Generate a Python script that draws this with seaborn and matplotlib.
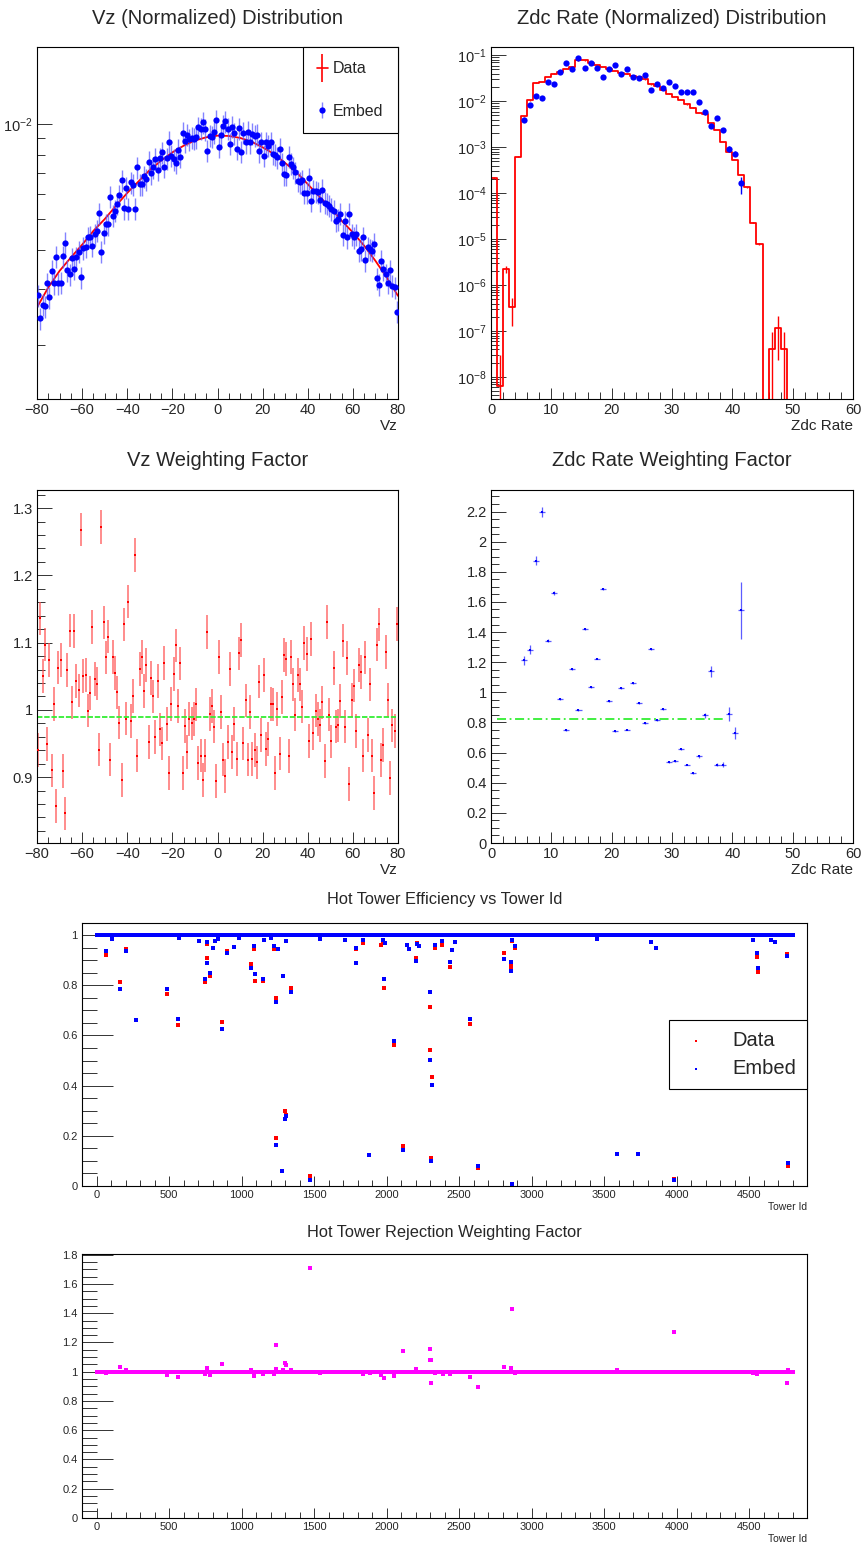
import numpy as np
import matplotlib
matplotlib.use("Agg")
import matplotlib.pyplot as plt
import seaborn as sns
from matplotlib.ticker import MultipleLocator, LogLocator, NullFormatter, FuncFormatter
from matplotlib.lines import Line2D

# ---------------- data ----------------
# Vz distribution (normalized), values in units of 1e-3
VZ_UNIT = 1e-3
vz_data_x = [-80, -75, -70, -65, -60, -55, -50, -45, -40, -35, -30, -25, -20, -15, -10, -5, 0,
             5, 10, 15, 20, 25, 30, 35, 40, 45, 50, 55, 60, 65, 70, 75, 80]
vz_data = [2.63, 3.04, 3.43, 3.78, 4.15, 4.59, 5.00, 5.51, 6.05, 6.58, 7.15, 7.65, 8.13, 8.53, 8.86,
           9.07, 9.18, 9.16, 9.03, 8.79, 8.43, 8.04, 7.52, 7.03, 6.45, 5.90, 5.44, 4.94, 4.54, 4.12,
           3.69, 3.27, 2.86]
vz_bin_centers = np.arange(-79.5, 80.0, 1.0)
vz_embed = [2.87, 2.43, 2.68, 2.65, 3.13, 2.83, 3.43, 3.13, 3.80, 3.13,
            3.14, 3.82, 4.21, 3.45, 3.35, 3.76, 3.48, 3.79, 3.94, 3.27,
            4.05, 4.09, 4.38, 4.40, 4.12, 4.48, 4.60, 5.21, 3.94, 4.52,
            4.82, 4.82, 5.88, 5.12, 5.31, 5.58, 5.94, 6.64, 5.41, 6.27,
            5.40, 6.53, 6.42, 5.40, 7.29, 6.45, 6.45, 6.83, 6.69, 7.58,
            6.98, 7.29, 7.76, 7.15, 7.78, 8.12, 7.32, 7.78, 8.79, 7.92,
            7.73, 7.52, 8.29, 7.88, 9.39, 8.82, 9.23, 8.95, 9.03, 8.97,
            9.07, 9.76, 9.64, 10.12, 9.60, 8.23, 9.18, 9.12, 9.41, 10.25,
            8.47, 9.23, 9.88, 10.20, 9.64, 8.64, 9.81, 9.34, 8.33, 9.69,
            8.17, 9.39, 8.75, 9.46, 8.75, 9.30, 9.18, 9.25, 8.19, 8.75,
            7.94, 8.75, 8.53, 8.75, 8.04, 7.98, 7.84, 8.33, 7.50, 6.94,
            6.91, 7.88, 7.47, 7.29, 7.03, 6.61, 6.53, 6.64, 6.05, 6.05,
            6.74, 5.71, 6.15, 6.12, 6.08, 5.74, 6.18, 5.64, 5.58, 5.51,
            5.38, 5.31, 4.94, 5.00, 5.19, 4.46, 4.92, 4.38, 5.19, 4.48,
            4.38, 4.48, 3.97, 4.02, 4.38, 3.71, 4.07, 4.02, 3.97, 4.17,
            3.25, 3.10, 3.69, 3.47, 3.35, 3.15, 3.44, 3.08, 3.04, 2.55]
vz_embed_relerr = 0.08

# Vz weighting factor
vz_weight = [0.940, 1.136, 1.050, 1.097, 0.949, 1.074, 0.910, 1.009, 0.857, 1.063,
             1.074, 0.909, 0.846, 1.059, 1.118, 1.011, 1.117, 1.043, 1.029, 1.268,
             1.050, 1.052, 0.999, 1.025, 1.123, 1.046, 1.039, 0.941, 1.272, 1.130,
             1.078, 1.109, 0.926, 1.079, 1.055, 1.026, 0.981, 0.896, 1.127, 0.987,
             1.161, 0.983, 1.021, 1.230, 0.932, 1.061, 1.079, 1.028, 1.067, 0.952,
             1.047, 1.020, 0.960, 1.043, 0.971, 0.950, 1.070, 0.979, 0.906, 1.009,
             1.053, 1.096, 1.006, 1.069, 0.906, 0.976, 0.937, 0.986, 0.980, 0.986,
             1.008, 0.921, 0.932, 0.896, 0.932, 1.116, 0.994, 1.006, 0.975, 0.894,
             1.079, 0.997, 0.926, 0.902, 0.952, 1.061, 0.937, 0.979, 0.927, 1.084,
             1.104, 0.950, 1.014, 0.926, 0.997, 0.927, 0.940, 0.922, 1.042, 0.963,
             1.052, 0.942, 0.957, 1.009, 1.008, 0.906, 1.001, 0.935, 1.019, 1.082,
             1.076, 0.931, 1.079, 1.038, 0.993, 1.052, 1.038, 1.005, 1.099, 1.083,
             0.954, 1.105, 0.966, 0.999, 0.986, 0.977, 1.011, 0.924, 1.131, 0.993,
             0.953, 1.062, 0.975, 0.977, 1.013, 1.103, 0.975, 1.077, 0.890, 1.015,
             1.036, 0.969, 1.067, 1.056, 0.932, 1.078, 0.963, 1.038, 0.932, 0.876,
             1.097, 1.127, 0.925, 0.948, 1.086, 1.015, 0.899, 0.977, 0.969, 1.128]
vz_weight_err = 0.025
vz_fit_value = 0.99
vz_fit_range = (-80, 79)

# Zdc rate distribution (normalized)
zdc_edges = np.arange(0, 61, 1)
zdc_data = [2.2e-4, 6.5e-9, 2.2e-6, 3.3e-7, 6.2e-4, 4.7e-3, 1.05e-2, 2.55e-2, 2.6e-2, 3.39e-2,
            4.0e-2, 4.4e-2, 5.1e-2, 5.6e-2, 7.8e-2, 7.8e-2, 6.8e-2, 6.1e-2, 5.6e-2, 5.1e-2,
            4.57e-2, 4.2e-2, 4.0e-2, 3.56e-2, 3.3e-2, 3.0e-2, 2.34e-2, 2.16e-2, 1.74e-2, 1.47e-2,
            1.25e-2, 1.06e-2, 8.6e-3, 7.3e-3, 5.6e-3, 5.2e-3, 3.3e-3, 2.36e-3, 1.3e-3, 8.0e-4,
            5.3e-4, 2.5e-4, 1.34e-4, 2.3e-5, 7.8e-6, 0.0, 4.1e-8, 1.2e-7, 4.1e-8, 0.0,
            0.0, 0.0, 0.0, 0.0, 0.0, 0.0, 0.0, 0.0, 0.0, 0.0]
zdc_data_relerr = ([0.05, 3.7, 0.18, 0.6, 0.03] + [0.01] * 39 +
                   [0.05, 0.0, 1.4, 0.8, 1.4] + [0.0] * 11)
zdc_embed_x = np.arange(5.5, 42.0, 1.0)
zdc_embed = [3.9e-3, 8.2e-3, 1.31e-2, 1.19e-2, 2.63e-2, 2.42e-2, 4.4e-2, 6.8e-2, 5.1e-2, 8.75e-2,
             5.4e-2, 6.7e-2, 5.4e-2, 3.3e-2, 5.1e-2, 6.1e-2, 3.94e-2, 5.1e-2, 3.33e-2, 3.2e-2,
             3.7e-2, 1.8e-2, 2.39e-2, 1.95e-2, 2.63e-2, 2.16e-2, 1.63e-2, 1.63e-2, 1.58e-2, 9.9e-3,
             5.8e-3, 2.9e-3, 4.4e-3, 2.43e-3, 9.1e-4, 7.3e-4, 1.64e-4]
zdc_embed_relerr = [0.03] * 34 + [0.15, 0.12, 0.4]

# Zdc weighting factor
zdc_weight = [1.214, 1.282, 1.873, 2.198, 1.344, 1.658, 0.955, 0.750, 1.156, 0.884,
              1.419, 1.035, 1.223, 1.685, 0.942, 0.741, 1.030, 0.752, 1.059, 0.926,
              0.796, 1.289, 0.818, 0.887, 0.535, 0.544, 0.621, 0.520, 0.462, 0.575,
              0.847, 1.139, 0.520, 0.520, 0.856, 0.730, 1.545]
zdc_weight_err = [0.03, 0.03, 0.03, 0.035, 0.008, 0.012, 0.005, 0.005, 0.005, 0.005,
                  0.005, 0.005, 0.005, 0.005, 0.005, 0.005, 0.005, 0.005, 0.005, 0.005,
                  0.005, 0.008, 0.005, 0.005, 0.005, 0.005, 0.005, 0.005, 0.005, 0.008,
                  0.015, 0.035, 0.008, 0.015, 0.045, 0.04, 0.19]
zdc_fit_value = 0.82
zdc_fit_range = (1, 39)

# Hot tower efficiency: towers 1..4800, efficiency 1 except listed towers
n_towers = 4800
eff_data_ids = [65, 105, 160, 200, 275, 485, 560, 570, 745, 760, 762, 780, 800, 820, 840, 865, 900,
                950, 985, 1065, 1085, 1090, 1150, 1155, 1200, 1225, 1235, 1240, 1250, 1285, 1303,
                1307, 1310, 1340, 1475, 1540, 1715, 1790, 1792, 1835, 1965, 1975, 1985, 1990, 2050,
                2115, 2140, 2155, 2200, 2210, 2225, 2300, 2302, 2304, 2315, 2335, 2385, 2436, 2454,
                2576, 2629, 2810, 2859, 2861, 2868, 2886, 3826, 3859, 3983, 4528, 4557, 4559, 4650,
                4764, 4766]
eff_data_vals = [0.922, 0.985, 0.812, 0.945, 0.663, 0.765, 0.641, 0.990, 0.811, 0.910, 0.965,
                 0.838, 0.950, 0.975, 0.985, 0.652, 0.935, 0.952, 0.990, 0.886, 0.945, 0.818,
                 0.818, 0.980, 0.990, 0.945, 0.192, 0.748, 0.945, 0.835, 0.297, 0.283, 0.975,
                 0.788, 0.040, 0.985, 0.980, 0.945, 0.887, 0.970, 0.962, 0.975, 0.790, 0.970,
                 0.561, 0.160, 0.962, 0.945, 0.910, 0.970, 0.958, 0.715, 0.543, 0.112, 0.433,
                 0.950, 0.960, 0.874, 0.940, 0.644, 0.070, 0.930, 0.876, 0.860, 0.975, 0.950,
                 0.974, 0.947, 0.029, 0.980, 0.912, 0.853, 0.980, 0.925, 0.080]
eff_embed_ids = [65, 105, 160, 200, 275, 485, 560, 570, 710, 745, 760, 762, 780, 800, 820, 840,
                 865, 900, 950, 985, 1065, 1085, 1090, 1150, 1155, 1200, 1225, 1235, 1240, 1250,
                 1280, 1285, 1303, 1307, 1310, 1340, 1475, 1540, 1715, 1790, 1792, 1835, 1880,
                 1975, 1985, 1990, 2050, 2115, 2140, 2155, 2200, 2210, 2225, 2300, 2302, 2304,
                 2315, 2335, 2385, 2436, 2454, 2470, 2576, 2629, 2810, 2859, 2861, 2863, 2868,
                 2886, 3452, 3588, 3734, 3826, 3859, 3983, 4528, 4557, 4559, 4650, 4679, 4764,
                 4766]
eff_embed_vals = [0.935, 0.985, 0.785, 0.937, 0.663, 0.785, 0.665, 0.990, 0.975, 0.823, 0.889,
                  0.973, 0.850, 0.950, 0.975, 0.985, 0.625, 0.927, 0.952, 0.990, 0.870, 0.958,
                  0.845, 0.826, 0.980, 0.990, 0.955, 0.163, 0.735, 0.945, 0.060, 0.838, 0.265,
                  0.280, 0.975, 0.775, 0.022, 0.985, 0.980, 0.948, 0.887, 0.980, 0.123, 0.980,
                  0.826, 0.970, 0.578, 0.143, 0.962, 0.945, 0.895, 0.963, 0.958, 0.772, 0.503,
                  0.100, 0.401, 0.960, 0.975, 0.891, 0.940, 0.971, 0.664, 0.080, 0.905, 0.894,
                  0.857, 0.008, 0.980, 0.958, 0.985, 0.126, 0.129, 0.974, 0.947, 0.024, 0.980,
                  0.929, 0.869, 0.980, 0.972, 0.916, 0.090]

# Hot tower rejection weighting factor: 1 except listed towers
rej_ids = [65, 160, 200, 485, 560, 745, 760, 780, 865, 1065, 1085, 1150, 1225, 1235, 1240, 1285,
           1303, 1307, 1340, 1475, 1540, 1835, 1885, 1965, 1985, 2050, 2115, 2200, 2300, 2302,
           2304, 2306, 2335, 2390, 2436, 2576, 2629, 2810, 2859, 2863, 2886, 3588, 3980, 4528,
           4557, 4764, 4766]
rej_vals = [0.990, 1.035, 1.010, 0.979, 0.963, 0.985, 1.026, 0.981, 1.051, 1.010, 0.969, 0.985,
            0.985, 1.181, 1.020, 1.015, 1.061, 1.045, 1.015, 1.707, 0.990, 0.985, 0.990, 0.981,
            0.956, 0.972, 1.140, 1.020, 1.156, 1.083, 1.083, 0.926, 0.990, 0.985, 0.985, 0.967,
            0.896, 1.031, 1.026, 1.429, 0.990, 1.010, 1.270, 0.990, 0.985, 0.926, 1.010]

# ---------------- style ----------------
sns.set_style("ticks")
plt.rcParams["font.family"] = ["Liberation Sans", "DejaVu Sans"]
plt.rcParams["mathtext.default"] = "regular"
plt.rcParams["axes.linewidth"] = 0.8

W, H = 864, 1544
fig = plt.figure(figsize=(W / 100, H / 100), dpi=100)


def px_axes(l, t, r, b):
    return fig.add_axes([l / W, 1 - b / H, (r - l) / W, (b - t) / H])


def style(ax, xmaj, xmin, ymaj, ymin, lab):
    for s in ax.spines.values():
        s.set_visible(True)
        s.set_color("black")
        s.set_linewidth(0.8)
    ax.tick_params(axis="x", which="major", direction="in", length=xmaj, width=0.7,
                   labelsize=lab, top=False, bottom=True, pad=3, color="#333333")
    ax.tick_params(axis="x", which="minor", direction="in", length=xmin, width=0.7,
                   top=False, bottom=True, color="#333333")
    ax.tick_params(axis="y", which="major", direction="in", length=ymaj, width=0.7,
                   labelsize=lab, right=False, left=True, pad=3, color="#333333")
    ax.tick_params(axis="y", which="minor", direction="in", length=ymin, width=0.7,
                   right=False, left=True, color="#333333")


gfmt = FuncFormatter(lambda v, p: f"{v:g}")


def title(ax, text, y, size):
    bb = ax.get_position()
    fig.text((bb.x0 + bb.x1) / 2, 1 - y / H, text, ha="center", va="center", fontsize=size)


# ---------- Panel A: Vz distribution ----------
axA = px_axes(37, 47, 398, 399)
vz_data_arr = np.array(vz_data) * VZ_UNIT
vz_embed_arr = np.array(vz_embed) * VZ_UNIT
sns.lineplot(x=vz_data_x, y=vz_data_arr, color="red", lw=1.3, ax=axA, sort=False, estimator=None)
eb = axA.errorbar(vz_bin_centers, vz_embed_arr, yerr=vz_embed_arr * vz_embed_relerr, fmt="o",
                  color="blue", ms=4.5, ecolor=(0.35, 0.35, 1.0, 0.75), elinewidth=1.0,
                  markeredgewidth=0, zorder=3)
axA.set_yscale("log")
axA.set_xlim(-80, 80)
axA.set_ylim(1.35e-3, 1.75e-2)
axA.xaxis.set_major_locator(MultipleLocator(20))
axA.xaxis.set_minor_locator(MultipleLocator(5))
axA.yaxis.set_major_locator(LogLocator(base=10))
axA.yaxis.set_minor_locator(LogLocator(base=10, subs=np.arange(2, 10)))
axA.yaxis.set_minor_formatter(NullFormatter())
style(axA, 8, 4, 11, 6, 10.5)
axA.set_xlabel("Vz", loc="right", fontsize=11, labelpad=1)
data_handle = Line2D([], [], color="red", lw=1.2, marker="|", ms=20, mew=1.2)
axA.legend([data_handle, eb], ["Data", "Embed"], loc="upper right", bbox_to_anchor=(1.0, 1.0),
           borderaxespad=0, frameon=True, fancybox=False, edgecolor="black", fontsize=11.5,
           handlelength=0.65, handletextpad=0.35, labelspacing=1.7, borderpad=0.9,
           framealpha=1)
axA.get_legend().get_frame().set_linewidth(0.8)
title(axA, "Vz (Normalized) Distribution", 18, 14.5)

# ---------- Panel B: Zdc distribution ----------
axB = px_axes(491, 47, 853, 399)
zd = np.array(zdc_data)
zd_plot = np.where(zd > 0, zd, 1e-14)
step_y = np.append(zd_plot, zd_plot[-1])
sns.lineplot(x=zdc_edges, y=step_y, color="red", lw=1.3, drawstyle="steps-post", ax=axB,
             sort=False, estimator=None)
zc = zdc_edges[:-1] + 0.5
axB.errorbar(zc, zd_plot, yerr=zd * np.array(zdc_data_relerr), fmt="none", ecolor="red",
             elinewidth=1.0)
ze = np.array(zdc_embed)
axB.errorbar(zdc_embed_x, ze, yerr=ze * np.array(zdc_embed_relerr), fmt="o", color="blue",
             ms=4.5, markeredgewidth=0, ecolor="blue", elinewidth=1.0, zorder=3)
axB.set_yscale("log")
axB.set_xlim(0, 60)
axB.set_ylim(3.35e-9, 0.152)
axB.xaxis.set_major_locator(MultipleLocator(10))
axB.xaxis.set_minor_locator(MultipleLocator(2))
axB.yaxis.set_major_locator(LogLocator(base=10, numticks=20))
axB.yaxis.set_minor_locator(LogLocator(base=10, subs=np.arange(2, 10), numticks=20))
axB.yaxis.set_minor_formatter(NullFormatter())
style(axB, 8, 5, 11, 6, 10.5)
axB.set_xlabel("Zdc Rate", loc="right", fontsize=11, labelpad=1)
title(axB, "Zdc Rate (Normalized) Distribution", 18, 14.5)

# ---------- Panel C: Vz weighting factor ----------
axC = px_axes(37, 490, 398, 843)
vw = np.array(vz_weight)
axC.errorbar(vz_bin_centers, vw, yerr=vz_weight_err, fmt="none",
             ecolor=(1.0, 0.3, 0.3, 0.75), elinewidth=1.2)
sns.scatterplot(x=vz_bin_centers, y=vw, color="red", marker="s", s=3, linewidth=0, ax=axC,
                zorder=3)
axC.plot(vz_fit_range, [vz_fit_value, vz_fit_value], color="#33ee33", lw=1.3,
         linestyle=(0, (3, 1)))
axC.set_xlim(-80, 80)
axC.set_ylim(0.802, 1.327)
axC.xaxis.set_major_locator(MultipleLocator(20))
axC.xaxis.set_minor_locator(MultipleLocator(5))
axC.yaxis.set_major_locator(MultipleLocator(0.1))
axC.yaxis.set_minor_locator(MultipleLocator(0.02))
axC.yaxis.set_major_formatter(gfmt)
style(axC, 8, 4, 11, 6, 10.5)
axC.set_xlabel("Vz", loc="right", fontsize=11, labelpad=1)
title(axC, "Vz Weighting Factor", 461, 14.5)

# ---------- Panel D: Zdc weighting factor ----------
axD = px_axes(491, 490, 853, 843)
zw = np.array(zdc_weight)
axD.errorbar(zdc_embed_x, zw, xerr=0.5, yerr=zdc_weight_err, fmt="none",
             ecolor=(0.2, 0.2, 1.0, 0.8), elinewidth=0.9)
sns.scatterplot(x=zdc_embed_x, y=zw, color="blue", marker="s", s=2, linewidth=0, ax=axD,
                zorder=3)
axD.plot(zdc_fit_range, [zdc_fit_value, zdc_fit_value], color="#33ee33", lw=1.3,
         linestyle=(0, (5, 2, 1, 2)))
axD.set_xlim(0, 60)
axD.set_ylim(0, 2.343)
axD.xaxis.set_major_locator(MultipleLocator(10))
axD.xaxis.set_minor_locator(MultipleLocator(2))
axD.yaxis.set_major_locator(MultipleLocator(0.2))
axD.yaxis.set_minor_locator(MultipleLocator(0.05))
axD.yaxis.set_major_formatter(gfmt)
axD.xaxis.set_major_formatter(gfmt)
style(axD, 8, 5, 11, 6, 10.5)
axD.set_xlabel("Zdc Rate", loc="right", fontsize=11, labelpad=1)
title(axD, "Zdc Rate Weighting Factor", 461, 14.5)

# ---------- Panel E: hot tower efficiency ----------
axE = px_axes(82, 923, 807, 1186)
tower_id = np.arange(1, n_towers + 1)
eff_d = np.ones(n_towers)
eff_d[np.array(eff_data_ids) - 1] = eff_data_vals
eff_e = np.ones(n_towers)
eff_e[np.array(eff_embed_ids) - 1] = eff_embed_vals
sns.scatterplot(x=tower_id, y=eff_d, color="red", marker="s", s=5.5, linewidth=0, ax=axE,
                label="Data", zorder=3)
sns.scatterplot(x=tower_id, y=eff_e, color="blue", marker="s", s=5.5, linewidth=0, ax=axE,
                label="Embed", zorder=4)
axE.set_xlim(-100, 4900)
axE.set_ylim(0, 1.048)
axE.xaxis.set_major_locator(MultipleLocator(500))
axE.xaxis.set_minor_locator(MultipleLocator(100))
axE.yaxis.set_major_locator(MultipleLocator(0.2))
axE.yaxis.set_minor_locator(MultipleLocator(0.05))
axE.yaxis.set_major_formatter(gfmt)
style(axE, 7, 4, 22, 11, 8)
axE.set_xlabel("Tower Id", loc="right", fontsize=7.5, labelpad=1)
legE = axE.legend(loc="center right", bbox_to_anchor=(1.0, 0.5), borderaxespad=0,
                  frameon=True, fancybox=False, edgecolor="black", fontsize=14.5,
                  markerscale=0.7, handlelength=1.6, handletextpad=1.0, borderpad=0.55,
                  labelspacing=0.45, framealpha=1)
legE.get_frame().set_linewidth(0.8)
title(axE, "Hot Tower Efficiency vs Tower Id", 900, 11.8)

# ---------- Panel F: hot tower rejection weighting factor ----------
axF = px_axes(82, 1254, 807, 1518)
rej = np.ones(n_towers)
rej[np.array(rej_ids) - 1] = rej_vals
sns.scatterplot(x=tower_id, y=rej, color="#ff00ff", marker="s", s=6, linewidth=0, ax=axF,
                zorder=3)
axF.set_xlim(-100, 4900)
axF.set_ylim(0, 1.805)
axF.xaxis.set_major_locator(MultipleLocator(500))
axF.xaxis.set_minor_locator(MultipleLocator(100))
axF.yaxis.set_major_locator(MultipleLocator(0.2))
axF.yaxis.set_minor_locator(MultipleLocator(0.05))
axF.yaxis.set_major_formatter(gfmt)
style(axF, 7, 4, 22, 11, 8)
axF.set_xlabel("Tower Id", loc="right", fontsize=7.5, labelpad=1)
title(axF, "Hot Tower Rejection Weighting Factor", 1232, 11.8)

for ax in (axA, axB, axC, axD, axE, axF):
    ax.set_ylabel("")
    ax.grid(False)

fig.savefig("out.png", dpi=100, facecolor="white")
